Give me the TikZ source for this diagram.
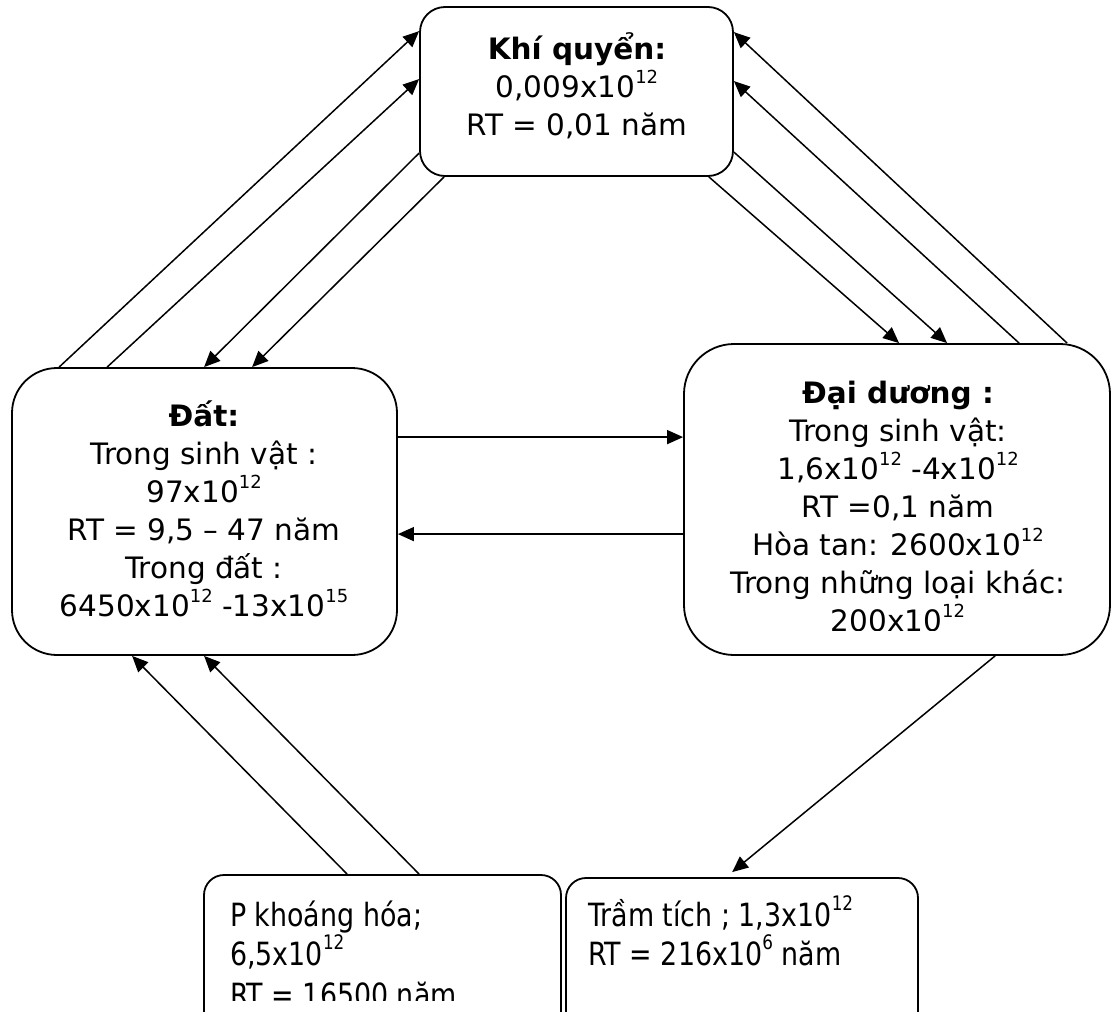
\documentclass[tikz,border=0pt]{standalone}
\usepackage{fontspec}
\setmainfont{DejaVu Sans}
\newfontfamily\narrowfont{DejaVu Sans}[FakeStretch=0.84]
\usetikzlibrary{arrows.meta,calc}
\newcommand\pw[1]{\raisebox{14pt}{\fontsize{18}{18}\selectfont #1}}
\newcommand\pwb[1]{\raisebox{16pt}{\fontsize{20}{20}\selectfont #1}}
\begin{document}
\begin{tikzpicture}[x=1pt,y=-1pt,
  box/.style={draw, line width=1.8pt, rounded corners=#1, inner sep=0pt},
  box/.default=25pt,
  flow/.style={line width=1.5pt, -{Triangle[length=16pt,width=14pt]}},
  txt/.style={align=center, font=\fontsize{29.5}{38}\selectfont, inner sep=0pt},
  ltxt/.style={align=left, font=\narrowfont\fontsize{32}{40}\selectfont, inner sep=0pt, anchor=base west}]
\useasboundingbox (0,0) rectangle (1112,1012);
\clip (0,0) rectangle (1112,1012);
% boxes
\node[box=25pt, minimum width=313pt, minimum height=169pt] (atm) at (576.5,91.5) {};
\node[box=45pt, minimum width=385pt, minimum height=287pt] (soil) at (204.5,511.5) {};
\node[box=50pt, minimum width=426pt, minimum height=311pt] (ocean) at (897,499.5) {};
\node[box=20pt, minimum width=357pt, minimum height=175pt] (mineral) at (382.5,962.5) {};
\node[box=20pt, minimum width=352pt, minimum height=172pt] (sed) at (742,964) {};
% texts
\node[txt] (atmtext) at (577,86) {\textbf{Khí quyển:}\\0,009x10\pw{12}\\RT = 0,01 năm};
\node[txt] (soiltext) at (204,509) {\textbf{Đất:}\\Trong sinh vật :\\97x10\pw{12}\\RT = 9,5 – 47 năm\\Trong đất :\\6450x10\pw{12} -13x10\pw{15}};
\begin{scope}
\clip (684,344) rectangle (1112,630);
\node[txt] (oceantext) at (898,506) {\textbf{Đại dương :}\\Trong sinh vật:\\1,6x10\pw{12} -4x10\pw{12}\\RT =0,1 năm\\Hòa tan: 2600x10\pw{12}\\Trong những loại khác:\\200x10\pw{12}};
\end{scope}
\begin{scope}
\clip (204,875) rectangle (561,1000);
\node[ltxt] (mintext1) at (230,926) {P khoáng hóa;};
\node[ltxt] (mintext2) at (230,965) {6,5x10\pwb{12}};
\node[ltxt] (mintext3) at (230,1006) {RT = 16500 năm};
\end{scope}
\node[ltxt] (sedtext1) at (588,926) {Trầm tích ; 1,3x10\pwb{12}};
\node[ltxt] (sedtext2) at (588,965) {RT = 216x10\pwb{6} năm};
% connectors: soil <-> atmosphere
\draw[flow] ($(soil.north west)+(48,0)$) -- ($(atm.north west)+(0,25)$);
\draw[flow] ($(soil.north west)+(96,0)$) -- ($(atm.north west)+(0,73)$);
\draw[flow] ($(atm.north west)+(0,147)$) -- ($(soil.north west)+(193,0)$);
\draw[flow] ($(atm.south west)+(25,0)$) -- ($(soil.north west)+(241,0)$);
% ocean <-> atmosphere
\draw[flow] ($(ocean.north west)+(384,0)$) -- ($(atm.north east)+(0,26)$);
\draw[flow] ($(ocean.north west)+(336,0)$) -- ($(atm.north east)+(0,75)$);
\draw[flow] ($(atm.north east)+(0,146)$) -- ($(ocean.north west)+(264,0)$);
\draw[flow] ($(atm.south east)+(-25,0)$) -- ($(ocean.north west)+(216,0)$);
% soil <-> ocean
\draw[flow] ($(soil.north east)+(0,70)$) -- ($(ocean.north west)+(0,94)$);
\draw[flow] ($(ocean.north west)+(0,191)$) -- ($(soil.north east)+(0,167)$);
% mineral -> soil
\draw[flow] ($(mineral.north west)+(144,0)$) -- ($(soil.south west)+(121,0)$);
\draw[flow] ($(mineral.north west)+(216,0)$) -- ($(soil.south west)+(193,0)$);
% ocean -> sediment
\draw[flow] ($(ocean.south west)+(312,0)$) -- ($(sed.north west)+(167,-5)$);
\end{tikzpicture}
\end{document}
